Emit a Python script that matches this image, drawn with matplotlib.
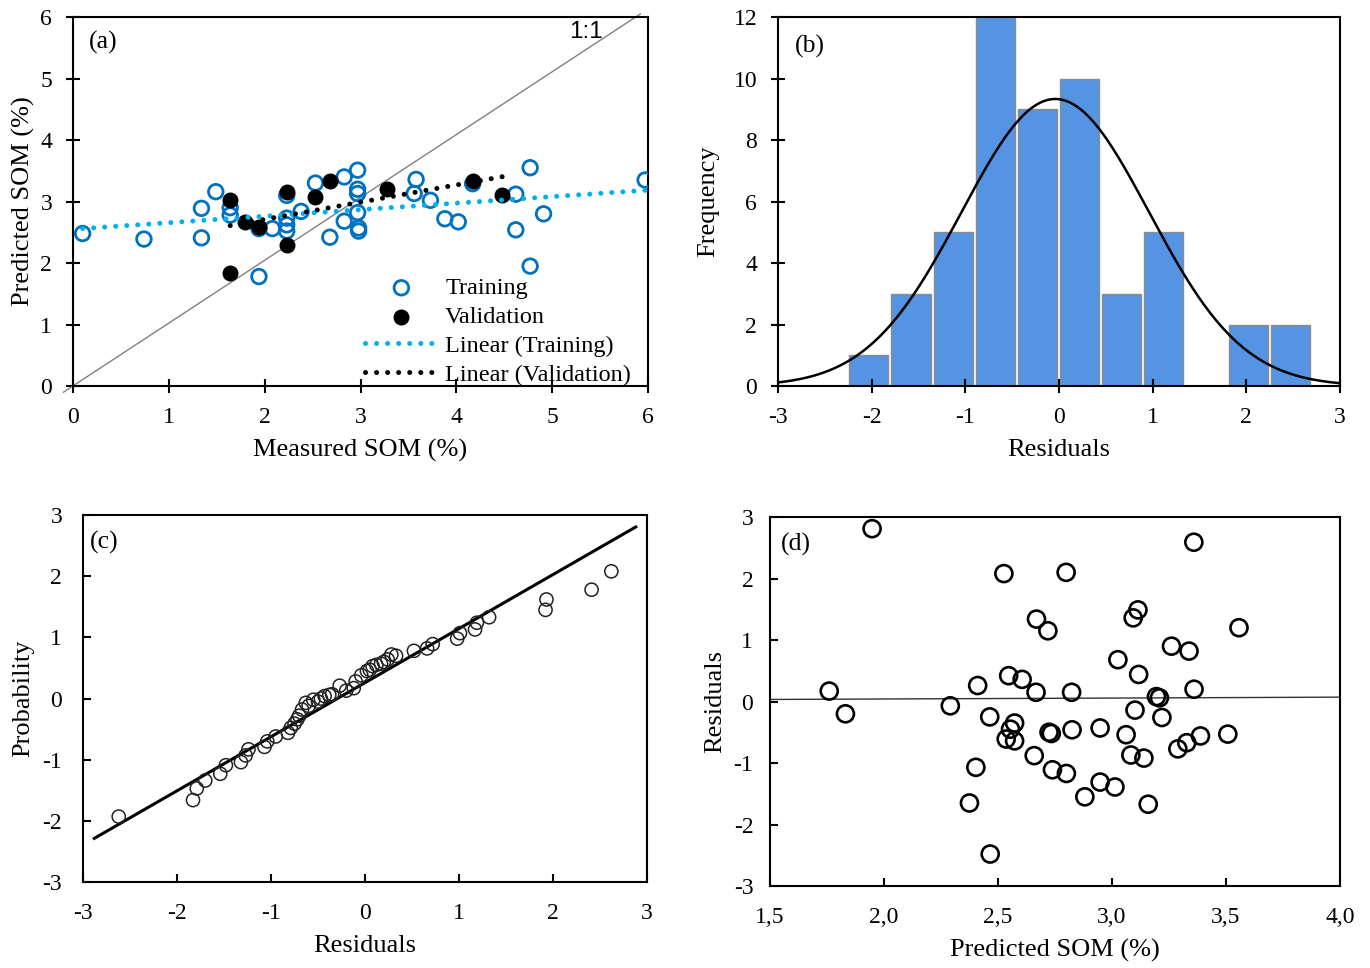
import matplotlib.pyplot as plt
import numpy as np

plt.rcParams['font.family'] = ['Liberation Serif', 'DejaVu Serif']
plt.rcParams['axes.unicode_minus'] = False

# ---- (a) measured vs predicted SOM ----
train_x = [0.10, 0.74, 1.34, 1.34, 1.49, 1.64, 1.64, 1.94, 1.94, 2.08, 2.23, 2.23,
           2.23, 2.23, 2.38, 2.53, 2.68, 2.83, 2.83, 2.97, 2.97, 2.97, 2.97, 2.98,
           2.98, 3.58, 3.56, 3.73, 3.88, 4.02, 4.17, 4.62, 4.62, 4.77, 4.77, 4.91, 5.97]
train_y = [2.48, 2.39, 2.89, 2.41, 3.16, 2.78, 2.90, 1.78, 2.56, 2.56, 2.73, 2.52,
           2.62, 3.10, 2.84, 3.30, 2.42, 3.40, 2.68, 3.51, 3.20, 3.13, 2.82, 2.57,
           2.52, 3.36, 3.13, 3.02, 2.72, 2.67, 3.29, 3.12, 2.54, 3.55, 1.95, 2.80, 3.35]
val_x = [1.64, 1.64, 1.79, 1.94, 2.23, 2.23, 2.53, 2.68, 3.28, 4.17, 4.48]
val_y = [3.03, 1.84, 2.66, 2.58, 3.16, 2.30, 3.07, 3.34, 3.21, 3.34, 3.11]
# linear trend lines (slope, intercept)
train_fit = (0.106, 2.55)
val_fit = (0.28, 2.15)

# ---- (b) histogram of residuals ----
bin_edges = [-2.24, -1.79, -1.34, -0.89, -0.44, 0.01, 0.46, 0.91, 1.36, 1.81, 2.26, 2.71]
counts = [1, 3, 5, 12, 9, 10, 3, 5, 0, 2, 2]
res_mean, res_sd = -0.04, 1.0

# ---- (c) normal probability plot ----
qq_x = [-2.62, -1.83, -1.79, -1.70, -1.54, -1.48, -1.32, -1.27, -1.24, -1.07, -1.04,
        -0.95, -0.82, -0.79, -0.75, -0.72, -0.70, -0.67, -0.63, -0.60, -0.55, -0.50,
        -0.47, -0.43, -0.38, -0.35, -0.27, -0.20, -0.12, -0.10, -0.04, 0.02, 0.05,
        0.08, 0.12, 0.17, 0.20, 0.24, 0.28, 0.33, 0.52, 0.66, 0.72, 0.98, 1.01, 1.17,
        1.19, 1.32, 1.92, 1.93, 2.41, 2.62]
qq_y = [-1.93, -1.66, -1.47, -1.34, -1.23, -1.09, -1.04, -0.93, -0.83, -0.79, -0.70,
        -0.62, -0.56, -0.48, -0.41, -0.34, -0.28, -0.18, -0.07, -0.12, -0.02, -0.05,
        0.00, 0.04, 0.06, 0.07, 0.21, 0.13, 0.17, 0.28, 0.38, 0.45, 0.47, 0.53, 0.55,
        0.57, 0.60, 0.64, 0.72, 0.70, 0.78, 0.82, 0.89, 0.98, 1.07, 1.13, 1.24, 1.33,
        1.45, 1.62, 1.78, 2.08]
qq_line = (0.884, 0.26)
qq_range = [-2.88, 2.88]

# ---- (d) residuals vs predicted ----
pred = [1.948, 1.760, 1.831, 2.291, 2.411, 2.464, 2.403, 2.375, 2.466, 2.526, 2.547,
        2.606, 2.667, 2.669, 2.719, 2.573, 2.555, 2.536, 2.573, 2.659, 2.724, 2.734,
        2.739, 2.800, 2.799, 2.823, 2.825, 2.881, 2.948, 2.948, 3.013, 3.026, 3.062,
        3.083, 3.093, 3.114, 3.117, 3.101, 3.140, 3.159, 3.195, 3.208, 3.219, 3.261,
        3.338, 3.359, 3.360, 3.289, 3.328, 3.388, 3.508, 3.557]
resid = [2.81, 0.17, -0.20, -0.07, 0.26, -0.25, -1.07, -1.65, -2.48, 2.08, 0.42,
         0.36, 0.15, 1.34, 1.15, -0.35, -0.45, -0.61, -0.64, -0.88, -0.50, -0.52,
         -1.11, -1.17, 2.10, 0.15, -0.46, -1.55, -0.43, -1.31, -1.39, 0.68, -0.54,
         -0.87, 1.36, 1.49, 0.44, -0.14, -0.92, -1.67, 0.08, 0.06, -0.26, 0.90,
         0.82, 2.59, 0.20, -0.77, -0.67, -0.56, -0.53, 1.20]
resid_fit = (0.015, 0.011)

FS_TICK = 17
FS_LAB = 19
FS_LEG = 17.5
FS_PANEL = 18.5

fig = plt.figure(figsize=(13.7, 9.68), dpi=100)
ax_a = fig.add_axes([0.0533, 0.6012, 0.4197, 0.3812])
ax_b = fig.add_axes([0.5679, 0.6012, 0.4102, 0.3812])
ax_c = fig.add_axes([0.0606, 0.0888, 0.4117, 0.3791])
ax_d = fig.add_axes([0.5620, 0.0847, 0.4161, 0.3812])

for ax in (ax_a, ax_b, ax_c, ax_d):
    for s in ax.spines.values():
        s.set_linewidth(1.5)
    ax.tick_params(labelsize=FS_TICK, width=1.5)

# (a)
ax_a.scatter(train_x, train_y, s=110, facecolors='none', edgecolors='#0070C0',
             linewidths=2.0, label='Training', zorder=3)
ax_a.scatter(val_x, val_y, s=110, color='black', label='Validation', zorder=4)
xt = np.array([min(train_x), max(train_x)])
ax_a.plot(xt, train_fit[0] * xt + train_fit[1], color='#00B0F0', lw=3.6,
          ls=(0, (0.01, 2.2)), dash_capstyle='round', label='Linear (Training)', zorder=5)
xv = np.array([min(val_x), max(val_x)])
ax_a.plot(xv, val_fit[0] * xv + val_fit[1], color='black', lw=3.6,
          ls=(0, (0.01, 2.2)), dash_capstyle='round', label='Linear (Validation)', zorder=5)
ax_a.plot([-0.1, 5.92], [-0.1, 6.05], color='gray', lw=1, clip_on=False, zorder=2)
ax_a.set_xlim(0, 6)
ax_a.set_ylim(0, 6)
ax_a.set_xticks(range(7))
ax_a.set_yticks(range(7))
ax_a.tick_params(direction='inout', length=10, pad=10)
ax_a.set_xlabel('Measured SOM (%)', fontsize=FS_LAB, labelpad=8)
ax_a.set_ylabel('Predicted SOM (%)', fontsize=FS_LAB, labelpad=4)
ax_a.text(0.027, 0.93, '(a)', transform=ax_a.transAxes, fontsize=FS_PANEL, va='center')
ax_a.text(5.18, 5.75, '1:1', fontsize=FS_LEG, family='Liberation Sans', va='center')
ax_a.legend(loc='lower right', bbox_to_anchor=(1.0, -0.045), frameon=False,
            fontsize=FS_LEG, handlelength=3.0, handletextpad=0.3, labelspacing=0.28,
            borderpad=0.2)

# (b)
edges = np.array(bin_edges)
widths = np.diff(edges)
ax_b.bar(edges[:-1], counts, width=widths * 0.93, align='edge', color='#5593E3',
         edgecolor='#8c8c8c', linewidth=1.0)
xs = np.linspace(-3, 3, 300)
bw = widths.mean()
norm_y = sum(counts) * bw / (res_sd * np.sqrt(2 * np.pi)) * np.exp(-0.5 * ((xs - res_mean) / res_sd) ** 2)
ax_b.plot(xs, norm_y, color='black', lw=1.8)
ax_b.set_xlim(-3, 3)
ax_b.set_ylim(0, 12)
ax_b.set_xticks(range(-3, 4))
ax_b.set_yticks(range(0, 13, 2))
ax_b.tick_params(direction='inout', length=10, pad=10)
ax_b.set_xlabel('Residuals', fontsize=FS_LAB, labelpad=8)
ax_b.set_ylabel('Frequency', fontsize=FS_LAB, labelpad=10)
ax_b.text(0.03, 0.92, '(b)', transform=ax_b.transAxes, fontsize=FS_PANEL, va='center')

# (c)
ax_c.scatter(qq_x, qq_y, s=90, facecolors='none', edgecolors='#222222', linewidths=1.1, zorder=3)
xq = np.array(qq_range)
ax_c.plot(xq, qq_line[0] * xq + qq_line[1], color='black', lw=2.2, zorder=2)
ax_c.set_xlim(-3, 3)
ax_c.set_ylim(-3, 3)
ax_c.set_xticks(range(-3, 4))
ax_c.set_yticks(range(-3, 4))
ax_c.tick_params(direction='in', length=6, pad=15)
ax_c.set_xlabel('Residuals', fontsize=FS_LAB, labelpad=8)
ax_c.set_ylabel('Probability', fontsize=FS_LAB, labelpad=6)
ax_c.text(0.012, 0.925, '(c)', transform=ax_c.transAxes, fontsize=FS_PANEL, va='center')

# (d)
ax_d.scatter(pred, resid, s=150, facecolors='none', edgecolors='black', linewidths=1.9, zorder=3)
xd = np.array([1.5, 4.0])
ax_d.plot(xd, resid_fit[0] * xd + resid_fit[1], color='#333333', lw=1.0, zorder=2)
ax_d.set_xlim(1.5, 4.0)
ax_d.set_ylim(-3, 3)
ax_d.set_xticks(np.arange(1.5, 4.01, 0.5))
ax_d.set_xticklabels(['1,5', '2,0', '2,5', '3,0', '3,5', '4,0'])
ax_d.set_yticks(range(-3, 4))
ax_d.tick_params(direction='in', length=6, pad=15)
ax_d.tick_params(axis='y', pad=12)
ax_d.set_xlabel('Predicted SOM (%)', fontsize=FS_LAB, labelpad=8)
ax_d.set_ylabel('Residuals', fontsize=FS_LAB, labelpad=5)
ax_d.text(0.02, 0.925, '(d)', transform=ax_d.transAxes, fontsize=FS_PANEL, va='center')

fig.savefig('out.png', dpi=100)
